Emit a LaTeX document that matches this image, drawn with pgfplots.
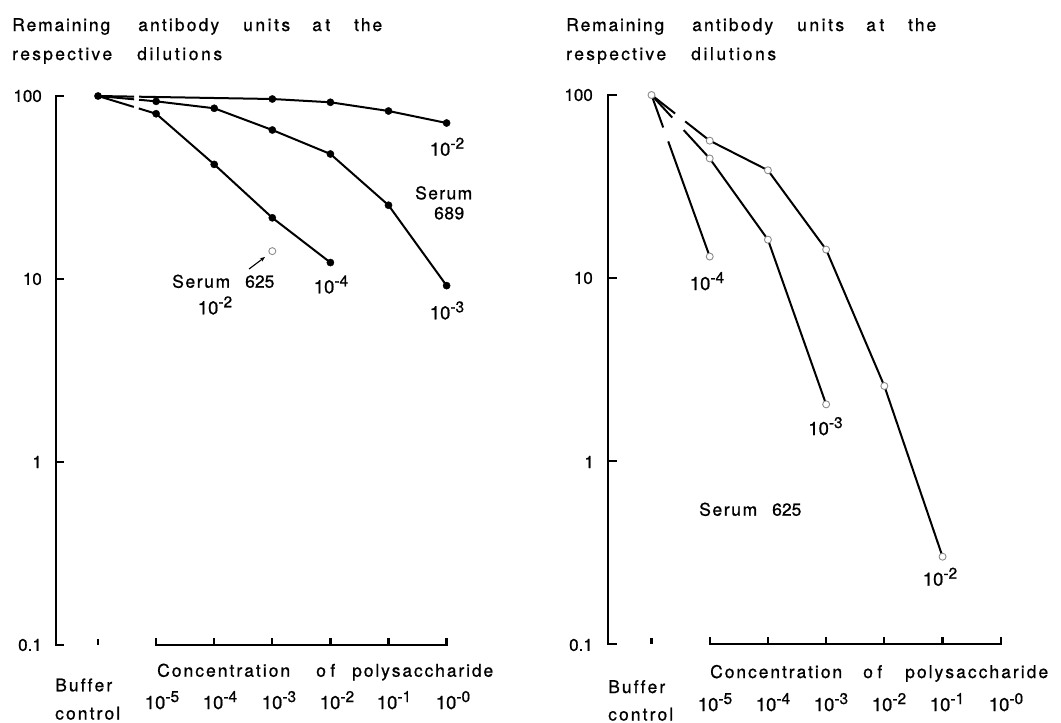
\documentclass[border=0pt]{standalone}
\usepackage{fontspec}
\setmainfont{TeX Gyre Heros}
\newfontfamily\pl{TeX Gyre Heros}[FakeBold=0.8]
\usepackage{pgfplots}
\pgfplotsset{compat=1.18}
\usetikzlibrary{arrows.meta}
\ExplSyntaxOn
\NewDocumentCommand\LSW{mm}{\hbox~to~#1~{\tl_map_inline:nn {#2} {##1\hfil}\unskip}}
\ExplSyntaxOff
\newcommand{\tp}[1]{{\pl\fontsize{18.5bp}{18.5bp}\selectfont 10\raisebox{7bp}{\fontsize{15.5bp}{15.5bp}\selectfont #1}}}
\newcommand{\W}[4]{\node[anchor=base west,inner sep=0pt] at (#1bp,-#2bp) {\LSW{#3bp}{#4}};}
\newcommand{\C}[3]{\node[anchor=base,inner sep=0pt] at (#1bp,-#2bp) {#3};}
\newcommand{\E}[3]{\node[anchor=east,inner sep=0pt,font=\pl\fontsize{17bp}{17bp}\selectfont] at (#1bp,-#2bp) {#3};}
\pgfplotsset{
  crv/.style={black, line width=2bp, no marks, line join=round},
  fmk/.style={only marks, mark=*, mark size=3.6bp, mark options={fill=black, draw=black, solid}},
  omk/.style={only marks, mark=*, mark size=3.5bp, mark options={fill=white, draw=black!45, line width=0.9bp, solid}},
}
\tikzset{axl/.style={line width=2.3bp, black}}
\begin{document}
\begin{tikzpicture}[font=\pl\fontsize{17.5bp}{20bp}\selectfont]
\useasboundingbox (0,0) rectangle (1061bp,-723bp);
% ---------- left panel ----------
\begin{axis}[scale only axis, hide axis, ymode=log, ymin=0.1, ymax=100,
    clip=false, height=549bp, anchor=south west,
    at={(56.2bp,-645bp)}, width=390.4bp, xmin=-0.72, xmax=6]
 % first (broken) segments
 \addplot[crv, dash pattern=on 36bp off 5bp on 400bp off 1bp] coordinates {(0,100) (3,96.3)};
 \addplot[crv, dash pattern=on 36.2bp off 5bp on 400bp off 1bp] coordinates {(0,100) (1,93.5)};
 \addplot[crv, dash pattern=on 37.4bp off 5.2bp on 400bp off 1bp] coordinates {(0,100) (1,80)};
 % remaining segments
 \addplot[crv] coordinates {(3,96.3) (4,92.4) (5,82.8) (6,71.2)};
 \addplot[crv] coordinates {(1,93.5) (2,85.7) (3,65.2) (4,48.2) (5,25.3) (6,9.2)};
 \addplot[crv] coordinates {(1,80) (2,42.3) (3,21.6) (4,12.3)};
 % marks
 \addplot[fmk] coordinates {(0,100) (3,96.3) (4,92.4) (5,82.8) (6,71.2)};
 \addplot[fmk] coordinates {(1,93.5) (2,85.7) (3,65.2) (4,48.2) (5,25.3) (6,9.2)};
 \addplot[fmk] coordinates {(1,80) (2,42.3) (3,21.6) (4,12.3)};
 \addplot[omk] coordinates {(3,14.2)};
 % axes
 \draw[axl, line cap=butt] ([xshift=8bp]axis cs:-0.72,100) -- (axis cs:-0.72,100) -- (axis cs:-0.72,0.1) -- ([xshift=8bp]axis cs:-0.72,0.1);
 \draw[axl] (axis cs:-0.72,10) -- ([xshift=8bp]axis cs:-0.72,10);
 \draw[axl] (axis cs:-0.72,1) -- ([xshift=8bp]axis cs:-0.72,1);
 \draw[axl] ([yshift=7bp]axis cs:1,0.1) -- (axis cs:1,0.1) -- (axis cs:6,0.1) -- ([yshift=7bp]axis cs:6,0.1);
 \draw[axl] (axis cs:2,0.1) -- ([yshift=7bp]axis cs:2,0.1);
 \draw[axl] (axis cs:3,0.1) -- ([yshift=7bp]axis cs:3,0.1);
 \draw[axl] (axis cs:4,0.1) -- ([yshift=7bp]axis cs:4,0.1);
 \draw[axl] (axis cs:5,0.1) -- ([yshift=7bp]axis cs:5,0.1);
 \draw[axl] ([yshift=0.5bp]axis cs:0,0.1) -- ([yshift=6.5bp]axis cs:0,0.1);
\end{axis}
% ---------- right panel ----------
\begin{axis}[scale only axis, hide axis, ymode=log, ymin=0.1, ymax=100,
    clip=false, height=549bp, anchor=south west,
    at={(607.85bp,-644bp)}, width=392.9bp, xmin=-0.75, xmax=6]
 \addplot[crv, dash pattern=on 34.5bp off 14.8bp on 400bp off 1bp] coordinates {(0,100) (1,13.1)};
 \addplot[crv, dash pattern=on 30.6bp off 17bp on 400bp off 1bp] coordinates {(0,100) (1,45)};
 \addplot[crv, dash pattern=on 30bp off 12.8bp on 400bp off 1bp] coordinates {(0,100) (1,56.3)};
 \addplot[crv] coordinates {(1,45) (2,16.2) (3,2.04)};
 \addplot[crv] coordinates {(1,56.3) (2,38.8) (3,14.3) (4,2.57) (5,0.30)};
 \addplot[omk] coordinates {(0,100) (1,13.1)};
 \addplot[omk] coordinates {(1,45) (2,16.2) (3,2.04)};
 \addplot[omk] coordinates {(1,56.3) (2,38.8) (3,14.3) (4,2.57) (5,0.30)};
 \draw[axl, line cap=butt] ([xshift=9bp]axis cs:-0.75,100) -- (axis cs:-0.75,100) -- (axis cs:-0.75,0.1) -- ([xshift=9bp]axis cs:-0.75,0.1);
 \draw[axl] (axis cs:-0.75,10) -- ([xshift=9bp]axis cs:-0.75,10);
 \draw[axl] (axis cs:-0.75,1) -- ([xshift=9bp]axis cs:-0.75,1);
 \draw[axl] ([yshift=7bp]axis cs:1,0.1) -- (axis cs:1,0.1) -- (axis cs:6,0.1) -- ([yshift=7bp]axis cs:6,0.1);
 \draw[axl] (axis cs:2,0.1) -- ([yshift=7bp]axis cs:2,0.1);
 \draw[axl] (axis cs:3,0.1) -- ([yshift=7bp]axis cs:3,0.1);
 \draw[axl] (axis cs:4,0.1) -- ([yshift=7bp]axis cs:4,0.1);
 \draw[axl] (axis cs:5,0.1) -- ([yshift=7bp]axis cs:5,0.1);
 \draw[axl] ([yshift=0.5bp]axis cs:0,0.1) -- ([yshift=6.5bp]axis cs:0,0.1);
\end{axis}
% ---------- texts: left ----------
\W{12}{31}{98}{Remaining}\W{138}{31}{81}{antibody}\W{243}{31}{47}{units}\W{312}{31}{18}{at}\W{354}{31}{28}{the}
\W{12}{60}{100}{respective}\W{137}{60}{85}{dilutions}
\E{42}{96}{100}\E{42}{279}{10}\E{42}{462}{1}\E{42}{645}{0.1}
\W{157}{676.7}{133}{Concentration}\W{316}{676.7}{19}{of}\W{352}{676.7}{141}{polysaccharide}
\W{55}{691.3}{57}{Buffer}\W{55}{719.5}{65}{control}
\C{162}{709}{\tp{-5}}\C{220}{709}{\tp{-4}}\C{279}{709}{\tp{-3}}\C{337}{709}{\tp{-2}}\C{394}{709}{\tp{-1}}\C{453}{709}{\tp{-0}}
\C{447}{155.7}{\tp{-2}}
\W{415}{199.3}{57}{Serum}\W{434}{219.3}{30}{689}
\C{447}{319.3}{\tp{-3}}
\C{331}{293.3}{\tp{-4}}
\W{172}{287.7}{58}{Serum}\W{245}{287.7}{27}{625}\C{215}{314.3}{\tp{-2}}
\draw[line width=1.1bp, -{Stealth[length=5bp,width=4bp]}] (249bp,-269bp) -- (265bp,-257bp);
% ---------- texts: right ----------
\W{566}{31}{98}{Remaining}\W{692}{31}{81}{antibody}\W{797}{31}{47}{units}\W{866}{31}{18}{at}\W{908}{31}{28}{the}
\W{566}{60}{100}{respective}\W{691}{60}{85}{dilutions}
\E{593}{95}{100}\E{593}{278}{10}\E{594}{462}{1}\E{593}{645}{0.1}
\W{710}{678}{132}{Concentration}\W{863}{678}{19}{of}\W{905}{678}{143}{polysaccharide}
\W{608}{693}{57}{Buffer}\W{608}{720.5}{65}{control}
\C{715}{711}{\tp{-5}}\C{773}{711}{\tp{-4}}\C{831}{711}{\tp{-3}}\C{889}{711}{\tp{-2}}\C{947}{711}{\tp{-1}}\C{1006}{711}{\tp{-0}}
\C{707}{290}{\tp{-4}}
\C{825.5}{435}{\tp{-3}}
\C{940}{585.7}{\tp{-2}}
\W{699}{515.7}{58}{Serum}\W{772}{515.7}{28}{625}
\end{tikzpicture}
\end{document}
